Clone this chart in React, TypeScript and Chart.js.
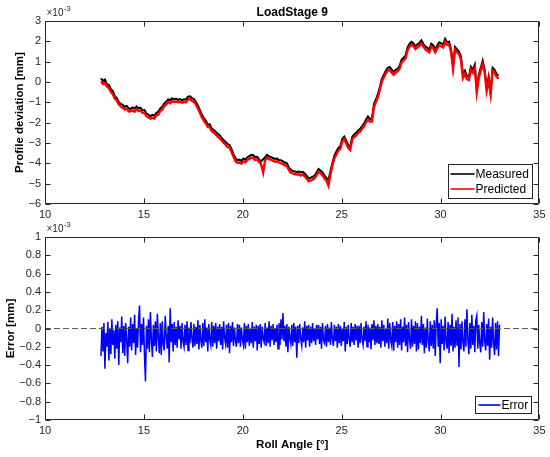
import React, { useEffect, useRef } from "react";
import { Chart, registerables } from "chart.js";

Chart.register(...registerables);

const FONT = '"Liberation Sans", Arial, Helvetica, sans-serif';
Chart.defaults.font.family = FONT;

// Roll angle sampling grids [deg]
const rollAngleStart = 12.83;
const profileStep = 0.1;
const errorStep = 0.05;

// Profile deviation, measured [x1e-3 mm]
const measured = [
  0.18, 0.05, 0.12, -0.1, -0.15, -0.35, -0.45, -0.7, -0.78, -0.98,
  -1.08, -1.12, -1.22, -1.18, -1.3, -1.32, -1.25, -1.3, -1.2, -1.3,
  -1.26, -1.4, -1.38, -1.55, -1.6, -1.68, -1.62, -1.66, -1.52, -1.45,
  -1.3, -1.22, -1.05, -0.98, -0.85, -0.9, -0.8, -0.86, -0.82, -0.88,
  -0.84, -0.9, -0.85, -0.86, -0.72, -0.7, -0.8, -0.84, -0.98, -1.15,
  -1.38, -1.6, -1.78, -1.9, -2.1, -2.08, -2.3, -2.35, -2.45, -2.55,
  -2.62, -2.75, -2.85, -2.95, -3.05, -3.1, -3.3, -3.55, -3.75, -3.85,
  -3.82, -3.88, -3.76, -3.82, -3.7, -3.65, -3.58, -3.6, -3.7, -3.68,
  -3.82, -3.9, -3.8, -3.7, -3.58, -3.66, -3.7, -3.74, -3.78, -3.76,
  -3.84, -3.85, -3.9, -3.96, -4.0, -4.2, -4.32, -4.38, -4.4, -4.42,
  -4.4, -4.45, -4.42, -4.5, -4.62, -4.74, -4.7, -4.66, -4.6, -4.45,
  -4.28, -4.35, -4.45, -4.6, -4.72, -4.82, -4.4, -3.98, -3.62, -3.42,
  -3.25, -3.15, -2.8, -2.68, -2.88, -3.1, -3.2, -2.7, -2.58, -2.5,
  -2.38, -2.3, -2.18, -2.05, -1.85, -1.7, -1.82, -1.8, -1.1, -0.85,
  -0.6, -0.25, 0.15, 0.35, 0.55, 0.7, 0.74, 0.6, 0.5, 0.6,
  0.65, 0.8, 1.1, 1.2, 1.3, 1.7, 1.88, 1.98, 1.9, 1.76,
  1.85, 1.92, 2.05, 1.88, 1.74, 1.68, 1.6, 1.88, 1.8, 1.6,
  1.8, 1.95, 1.9, 1.84, 2.12, 1.96, 1.98, 1.6, 0.75, 1.72,
  1.6, 1.5, 1.25, 0.35, 0.55, 0.3, 0.25, 0.75, 0.6, 0.85,
  -0.4, 0.35, 0.7, 1.05, 0.6, -0.3, 0.25, -0.5, 0.7, 0.6,
  0.4, 0.3,
];

// Profile deviation, predicted [x1e-3 mm]
const predicted = [
  0.02, -0.1, -0.05, -0.22, -0.3, -0.48, -0.6, -0.82, -0.92, -1.1,
  -1.2, -1.28, -1.35, -1.32, -1.45, -1.44, -1.4, -1.46, -1.34, -1.42,
  -1.4, -1.52, -1.53, -1.68, -1.75, -1.8, -1.76, -1.8, -1.64, -1.6,
  -1.42, -1.36, -1.18, -1.1, -0.98, -1.04, -0.94, -0.98, -0.96, -1.0,
  -0.98, -1.02, -0.98, -1.0, -0.86, -0.84, -0.92, -0.98, -1.1, -1.3,
  -1.5, -1.74, -1.9, -2.04, -2.22, -2.22, -2.42, -2.48, -2.58, -2.68,
  -2.76, -2.88, -2.98, -3.08, -3.2, -3.22, -3.45, -3.68, -3.9, -3.98,
  -3.96, -4.02, -3.9, -3.95, -3.84, -3.78, -3.72, -3.74, -3.84, -3.8,
  -3.95, -4.05, -4.45, -3.84, -3.72, -3.8, -3.82, -3.88, -3.92, -3.9,
  -3.96, -4.0, -4.03, -4.1, -4.14, -4.32, -4.46, -4.5, -4.54, -4.55,
  -4.54, -4.6, -4.55, -4.64, -4.76, -4.88, -4.84, -4.8, -4.74, -4.58,
  -4.42, -4.48, -4.58, -4.74, -4.86, -5.1, -4.55, -4.12, -3.76, -3.55,
  -3.38, -3.28, -2.94, -2.8, -3.02, -3.24, -3.34, -2.84, -2.7, -2.64,
  -2.5, -2.44, -2.3, -2.18, -1.98, -1.84, -1.95, -1.94, -1.24, -0.98,
  -0.74, -0.38, 0.02, 0.22, 0.42, 0.56, 0.6, 0.46, 0.36, 0.46,
  0.52, 0.66, 0.96, 1.06, 1.16, 1.56, 1.74, 1.84, 1.76, 1.62,
  1.7, 1.78, 1.9, 1.74, 1.6, 1.54, 1.46, 1.74, 1.66, 1.46,
  1.66, 1.8, 1.76, 1.7, 1.98, 1.82, 1.84, 1.46, 0.65, 1.58,
  1.46, 1.36, 1.1, 0.2, 0.4, 0.14, 0.1, 0.6, 0.46, 0.7,
  -0.5, 0.2, 0.55, 0.9, 0.46, -0.42, 0.1, -0.6, 0.56, 0.46,
  0.26, 0.16,
];

// Prediction error [x1e-3 mm]
const errorValues = [
  -0.30, 0.02, -0.25, 0.06, -0.44, -0.05, -0.20, 0.07, -0.35, 0.00, -0.28, 0.10, -0.18, -0.02, -0.33, 0.04, -0.22, 0.08, -0.40, 0.01,
  -0.15, 0.13, -0.27, 0.03, -0.30, 0.06, -0.12, -0.38, 0.02, -0.20, 0.12, -0.24, 0.05, -0.16, 0.15, -0.29, 0.00, -0.21, 0.09, 0.25,
  -0.26, 0.05, -0.18, 0.12, -0.30, -0.58, 0.03, -0.22, 0.10, -0.26, 0.18, -0.12, -0.31, 0.04, -0.19, 0.08, -0.25, 0.16, -0.10, -0.27,
  0.06, -0.29, 0.08, -0.17, -0.24, 0.14, -0.09, -0.22, 0.03, -0.37, 0.22, -0.15, 0.05, -0.25, 0.07, -0.18, 0.02, -0.21, 0.09, -0.12,
  0.03, -0.22, 0.06, -0.14, -0.20, 0.04, -0.18, 0.08, -0.24, 0.01, -0.16, 0.07, -0.11, -0.21, 0.05, -0.19, 0.02, -0.17, 0.09, -0.23,
  0.04, -0.13, -0.21, 0.06, -0.19, 0.10, -0.15, 0.01, -0.25, 0.05, -0.12, -0.18, 0.07, -0.20, 0.03, -0.16, 0.06, -0.22, 0.02, -0.14,
  0.05, -0.18, 0.02, -0.23, 0.08, -0.10, -0.17, 0.04, -0.21, 0.06, -0.27, 0.03, -0.15, 0.07, -0.19, 0.01, -0.13, -0.20, 0.05, -0.16,
  0.04, -0.20, 0.01, -0.12, -0.18, 0.06, -0.22, 0.03, -0.15, 0.05, -0.19, 0.00, -0.16, 0.07, -0.21, 0.02, -0.14, 0.04, -0.24, 0.03,
  -0.17, 0.05, -0.21, 0.02, -0.11, -0.15, 0.06, -0.19, 0.01, -0.16, 0.08, -0.20, 0.03, -0.13, 0.05, -0.18, 0.00, -0.15, 0.04, -0.22,
  0.06, -0.18, 0.10, -0.12, 0.17, -0.14, 0.03, -0.20, 0.05, -0.26, 0.02, -0.11, -0.17, 0.04, -0.19, 0.06, -0.15, 0.02, -0.32, 0.03,
  -0.16, 0.05, -0.12, -0.19, 0.01, -0.15, 0.08, -0.21, 0.03, -0.13, 0.04, -0.20, 0.02, -0.16, 0.06, -0.14, 0.00, -0.18, 0.04, -0.12,
  0.04, -0.17, 0.02, -0.22, 0.06, -0.13, -0.16, 0.03, -0.20, 0.05, -0.15, 0.01, -0.18, 0.07, -0.12, -0.19, 0.04, -0.14, 0.02, -0.21,
  0.05, -0.16, 0.03, -0.19, 0.00, -0.14, 0.07, -0.25, 0.02, -0.17, 0.04, -0.11, -0.20, 0.06, -0.15, 0.02, -0.18, 0.05, -0.13, 0.03,
  -0.21, 0.03, -0.16, 0.06, -0.12, -0.18, 0.02, -0.14, 0.08, -0.20, 0.04, -0.15, 0.01, -0.23, 0.05, -0.13, 0.09, -0.18, 0.03, -0.16,
  0.05, -0.17, 0.02, -0.21, 0.09, -0.14, 0.04, -0.20, 0.00, -0.16, 0.11, -0.22, 0.06, -0.13, -0.19, 0.07, -0.24, 0.03, -0.15, 0.08,
  -0.21, 0.05, -0.18, 0.10, -0.24, 0.02, -0.15, 0.12, -0.19, 0.04, -0.26, 0.07, -0.12, -0.22, 0.10, -0.20, 0.03, -0.17, 0.08, -0.25,
  0.06, -0.23, 0.02, -0.16, 0.14, -0.18, 0.05, -0.27, 0.01, -0.21, 0.11, -0.14, -0.25, 0.08, -0.19, 0.04, -0.22, 0.09, -0.30, 0.05,
  0.22, -0.20, 0.06, -0.38, 0.10, -0.17, 0.03, -0.24, 0.13, -0.14, -0.22, 0.07, -0.27, 0.04, -0.19, 0.16, -0.25, 0.02, -0.21, 0.09,
  -0.18, 0.12, -0.42, 0.05, -0.23, 0.08, -0.15, -0.25, 0.10, -0.20, 0.21, -0.12, -0.28, 0.06, -0.22, 0.15, -0.18, 0.03, -0.26, 0.09,
  0.14, -0.22, 0.04, -0.17, -0.26, 0.07, -0.20, 0.18, -0.14, -0.24, 0.05, -0.19, 0.11, -0.34, 0.02, -0.21, 0.12, -0.16, -0.29, 0.06,
  -0.23, 0.08, -0.30, 0.04,
];

// Zero reference line in the error plot
const zeroLineX = [10, 35];
const zeroLineY = [0, 0];

// Tick values
const rollAngleTicks = [10, 15, 20, 25, 30, 35];
const deviationTicks = [-6, -5, -4, -3, -2, -1, 0, 1, 2, 3];
const errorTicks = [-1, -0.8, -0.6, -0.4, -0.2, 0, 0.2, 0.4, 0.6, 0.8, 1];

const toPoints = (vals: number[], step: number) =>
  vals.map((y, i) => ({ x: rollAngleStart + i * step, y }));

const fmtTick = (v: number | string) => {
  const n = Number(v);
  const r = Math.round(n * 10) / 10;
  const s = Number.isInteger(r) ? String(r) : r.toFixed(1);
  return s.replace("-", "\u2212");
};

const setTicks = (vals: number[]) => (scale: any) => {
  scale.ticks = vals.map((value) => ({ value }));
};

type OverlayCfg = {
  title?: string;
  right: number;
  bottom: number;
  rowH: number;
  padY: number;
  lineX0: number;
  lineX1: number;
  textX: number;
  padR: number;
};

function makeOverlay(o: OverlayCfg) {
  return {
    id: "matlabOverlay",
    afterDatasetsDraw(chart: any) {
      const { ctx, chartArea: a } = chart;
      const xs = chart.scales.x;
      const ys = chart.scales.y;
      ctx.save();
      ctx.setLineDash([]);
      const L = Math.round(a.left) + 0.5;
      const R = Math.round(a.right) - 0.5;
      const T = Math.round(a.top) + 0.5;
      const B = Math.round(a.bottom) - 0.5;
      ctx.strokeStyle = "#262626";
      ctx.lineWidth = 1;
      ctx.beginPath();
      ctx.rect(L, T, R - L, B - T);
      const tl = 5;
      for (const t of xs.ticks) {
        const p = Math.round(xs.getPixelForValue(t.value)) + 0.5;
        ctx.moveTo(p, B);
        ctx.lineTo(p, B - tl);
        ctx.moveTo(p, T);
        ctx.lineTo(p, T + tl);
      }
      for (const t of ys.ticks) {
        const p = Math.round(ys.getPixelForValue(t.value)) + 0.5;
        ctx.moveTo(L, p);
        ctx.lineTo(L + tl, p);
        ctx.moveTo(R, p);
        ctx.lineTo(R - tl, p);
      }
      ctx.stroke();

      // exponent label
      ctx.fillStyle = "#262626";
      ctx.textBaseline = "middle";
      ctx.textAlign = "left";
      ctx.font = `10px ${FONT}`;
      const ex = a.left + 1.5;
      ctx.fillText("\u00d710", ex, a.top - 8);
      const w = ctx.measureText("\u00d710").width;
      ctx.font = `7.5px ${FONT}`;
      ctx.fillText("-3", ex + w + 0.5, a.top - 12.5);

      // title
      if (o.title) {
        ctx.fillStyle = "#000000";
        ctx.font = `bold 12px ${FONT}`;
        ctx.textAlign = "center";
        ctx.fillText(o.title, (a.left + a.right) / 2, 13);
      }

      // legend
      const items = chart.data.datasets
        .filter((d: any) => d.label)
        .map((d: any) => ({ label: d.label as string, color: d.borderColor as string }));
      ctx.font = `12px ${FONT}`;
      ctx.textAlign = "left";
      const textW = Math.max(...items.map((it: any) => ctx.measureText(it.label).width));
      const boxW = Math.round(o.textX + textW + o.padR);
      const boxH = o.padY * 2 + items.length * o.rowH;
      const bx = Math.round(a.right - o.right - boxW) + 0.5;
      const by = Math.round(a.bottom - o.bottom - boxH) + 0.5;
      ctx.fillStyle = "#ffffff";
      ctx.fillRect(bx, by, boxW, boxH);
      ctx.strokeStyle = "#262626";
      ctx.lineWidth = 1;
      ctx.strokeRect(bx, by, boxW, boxH);
      items.forEach((it: any, k: number) => {
        const cy = by + o.padY + o.rowH * (k + 0.5);
        ctx.strokeStyle = it.color;
        ctx.lineWidth = 1.6;
        ctx.beginPath();
        ctx.moveTo(bx + o.lineX0, Math.round(cy));
        ctx.lineTo(bx + o.lineX1, Math.round(cy));
        ctx.stroke();
        ctx.fillStyle = "#000000";
        ctx.fillText(it.label, bx + o.textX, cy + 0.5);
      });
      ctx.restore();
    },
  };
}

const tickFont = { size: 11, family: FONT };
const axisTitleFont = { size: 11.5, weight: "bold" as const, family: FONT };

function topConfig(): any {
  return {
    type: "line",
    data: {
      datasets: [
        {
          label: "Measured",
          data: toPoints(measured, profileStep),
          borderColor: "#000000",
          borderWidth: 2,
          order: 2,
        },
        {
          label: "Predicted",
          data: toPoints(predicted, profileStep),
          borderColor: "#ff0000",
          borderWidth: 2.4,
          order: 1,
        },
      ],
    },
    options: {
      animation: false,
      responsive: false,
      events: [],
      layout: { padding: { top: 21, right: 9, bottom: 0, left: 0 } },
      elements: { point: { radius: 0 }, line: { tension: 0 } },
      plugins: { legend: { display: false }, tooltip: { enabled: false }, title: { display: false } },
      scales: {
        x: {
          type: "linear",
          min: 10,
          max: 35,
          afterBuildTicks: setTicks(rollAngleTicks),
          afterFit: (s: any) => {
            s.height = 24;
          },
          grid: { display: false, drawTicks: false },
          border: { display: false },
          ticks: { padding: 4.4, font: tickFont, color: "#262626", callback: fmtTick, maxRotation: 0 },
        },
        y: {
          type: "linear",
          min: -6,
          max: 3,
          afterBuildTicks: setTicks(deviationTicks),
          afterFit: (s: any) => {
            s.width = 45;
          },
          grid: { display: false, drawTicks: false },
          border: { display: false },
          ticks: { padding: 4, font: tickFont, color: "#262626", callback: fmtTick },
          title: {
            display: true,
            text: "Profile deviation [mm]",
            font: axisTitleFont,
            color: "#000000",
            padding: { top: 12.6, bottom: 0 },
          },
        },
      },
    },
    plugins: [
      makeOverlay({
        title: "LoadStage 9",
        right: 7,
        bottom: 6,
        rowH: 15,
        padY: 2,
        lineX0: 2,
        lineX1: 26,
        textX: 27,
        padR: 4,
      }),
    ],
  };
}

function bottomConfig(): any {
  return {
    type: "line",
    data: {
      datasets: [
        {
          label: "Error",
          data: toPoints(errorValues, errorStep),
          borderColor: "#0000ff",
          borderWidth: 1.5,
          order: 2,
        },
        {
          label: "",
          data: zeroLineX.map((x, i) => ({ x, y: zeroLineY[i] })),
          borderColor: "#595959",
          borderWidth: 1,
          borderDash: [6, 3],
          order: 1,
        },
      ],
    },
    options: {
      animation: false,
      responsive: false,
      events: [],
      layout: { padding: { top: 22, right: 9, bottom: 0, left: 0 } },
      elements: { point: { radius: 0 }, line: { tension: 0 } },
      plugins: { legend: { display: false }, tooltip: { enabled: false }, title: { display: false } },
      scales: {
        x: {
          type: "linear",
          min: 10,
          max: 35,
          afterBuildTicks: setTicks(rollAngleTicks),
          afterFit: (s: any) => {
            s.height = 37;
          },
          grid: { display: false, drawTicks: false },
          border: { display: false },
          ticks: { padding: 4.4, font: tickFont, color: "#262626", callback: fmtTick, maxRotation: 0 },
          title: {
            display: true,
            text: "Roll Angle [\u00b0]",
            font: axisTitleFont,
            color: "#000000",
            padding: { top: 0, bottom: 5 },
          },
        },
        y: {
          type: "linear",
          min: -1,
          max: 1,
          afterBuildTicks: setTicks(errorTicks),
          afterFit: (s: any) => {
            s.width = 45;
          },
          grid: { display: false, drawTicks: false },
          border: { display: false },
          ticks: { padding: 4, font: tickFont, color: "#262626", callback: fmtTick },
          title: {
            display: true,
            text: "Error [mm]",
            font: axisTitleFont,
            color: "#000000",
            padding: { top: 3.6, bottom: 0 },
          },
        },
      },
    },
    plugins: [
      makeOverlay({
        right: 8,
        bottom: 7,
        rowH: 15,
        padY: 1,
        lineX0: 3,
        lineX1: 25,
        textX: 26,
        padR: 3,
      }),
    ],
  };
}

export default function App() {
  const topRef = useRef<HTMLCanvasElement>(null);
  const botRef = useRef<HTMLCanvasElement>(null);

  useEffect(() => {
    const c1 = new Chart(topRef.current as HTMLCanvasElement, topConfig());
    const c2 = new Chart(botRef.current as HTMLCanvasElement, bottomConfig());
    return () => {
      c1.destroy();
      c2.destroy();
    };
  }, []);

  return (
    <div
      style={{
        position: "fixed",
        left: 0,
        top: 0,
        width: 550,
        height: 457,
        background: "#ffffff",
        overflow: "hidden",
      }}
    >
      <canvas
        ref={topRef}
        width={550}
        height={228}
        style={{ position: "absolute", left: 0, top: 0, width: 550, height: 228 }}
      />
      <canvas
        ref={botRef}
        width={550}
        height={242}
        style={{ position: "absolute", left: 0, top: 215, width: 550, height: 242 }}
      />
    </div>
  );
}
